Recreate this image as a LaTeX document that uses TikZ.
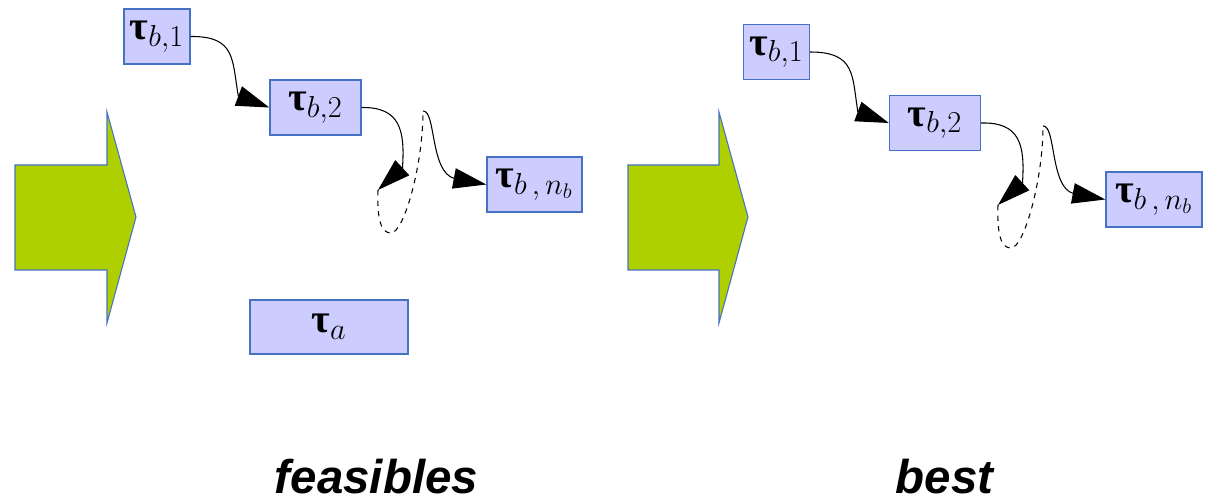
\documentclass[tikz,border=0pt]{standalone}
\usepackage{amsmath}
\usepackage{fontspec}
\newfontfamily\labelfont{Liberation Sans}
\newfontfamily\taufont{Liberation Serif}
\usetikzlibrary{arrows.meta,calc,positioning}
\definecolor{boxfill}{HTML}{CCCCFF}
\definecolor{boxline}{RGB}{69,114,196}
\definecolor{arrowfill}{HTML}{AECF00}
\newcommand{\tsk}[1]{{\taufont\bfseries τ}$_{#1}$}
\tikzset{%
	taskbox/.style  = {draw=boxline, fill=boxfill, line width=0.8pt, rectangle, minimum height=1.1cm, inner sep=0pt, font=\fontsize{23}{26}\selectfont},
	link/.style     = {line width=0.6pt, -{Triangle[length=0.66cm, width=0.41cm]}},
	skipline/.style = {line width=0.6pt, dashed},
	bigarrow/.style = {draw=boxline, fill=arrowfill, line width=0.6pt},
	caption/.style  = {font=\labelfont\bfseries\itshape\fontsize{27}{30}\selectfont, inner sep=1pt},
}

\begin{document}
\begin{tikzpicture}[x=0.02cm, y=-0.02cm]
	\useasboundingbox (0,0) rectangle (1211,503);
	% feasibles
	\draw[bigarrow] (15,165) -- (107,165) -- (107,112) -- (136,217) -- (107,323) -- (107,270) -- (15,270) -- cycle;
	\node[taskbox, minimum width=1.32cm] (fb1) at (157,36.5) {\tsk{b,1}};
	\node[taskbox, minimum width=1.82cm] (fb2) at (315.5,107.5) {\tsk{b,2}};
	\node[taskbox, minimum width=1.9cm] (fbn) at (534.5,184.5) {\tsk{b\,,\,n_b}};
	\node[taskbox, minimum width=3.16cm, minimum height=1.08cm] (fa) at (329,327) {\tsk{a}};
	\coordinate (fgap1) at (378,190);
	\coordinate (fgap2) at (423,111);
	\draw[link] (fb1.east) .. controls (236,36) and (232,60) .. ($(fb2.west)+(-31,-11.5)$) -- (fb2.west);
	\draw[link] (fb2.east) .. controls (400,107) and (405,130) .. ($(fgap1)+(24.5,-22.5)$) -- (fgap1);
	\draw[skipline] (fgap1) .. controls (377,220) and (381,233) .. (391,233) .. controls (404,233) and (423,165) .. (fgap2);
	\draw[link] (fgap2) .. controls (436,110) and (430,172) .. ($(fbn.west)+(-32,-6)$) -- (fbn.west);
	\node[caption, anchor=base] (capf) at (376.5,493) {feasibles};
	% best
	\draw[bigarrow] (628,165) -- (719,165) -- (719,112) -- (748,217) -- (719,323) -- (719,270) -- (628,270) -- cycle;
	\node[taskbox, minimum width=1.32cm] (bb1) at (776.5,52) {\tsk{b,1}};
	\node[taskbox, minimum width=1.82cm] (bb2) at (935,123) {\tsk{b,2}};
	\node[taskbox, minimum width=1.92cm] (bbn) at (1154,199.5) {\tsk{b\,,\,n_b}};
	\coordinate (bgap1) at (998,205);
	\coordinate (bgap2) at (1043,126);
	\draw[link] (bb1.east) .. controls (856,52) and (852,76) .. ($(bb2.west)+(-31,-11.5)$) -- (bb2.west);
	\draw[link] (bb2.east) .. controls (1020,122) and (1025,145) .. ($(bgap1)+(24.5,-22.5)$) -- (bgap1);
	\draw[skipline] (bgap1) .. controls (997,235) and (1001,248) .. (1011,248) .. controls (1024,248) and (1043,180) .. (bgap2);
	\draw[link] (bgap2) .. controls (1056,125) and (1050,187) .. ($(bbn.west)+(-32,-6)$) -- (bbn.west);
	\node[caption, anchor=base] (capb) at (944.5,493) {best};
\end{tikzpicture}
\end{document}
